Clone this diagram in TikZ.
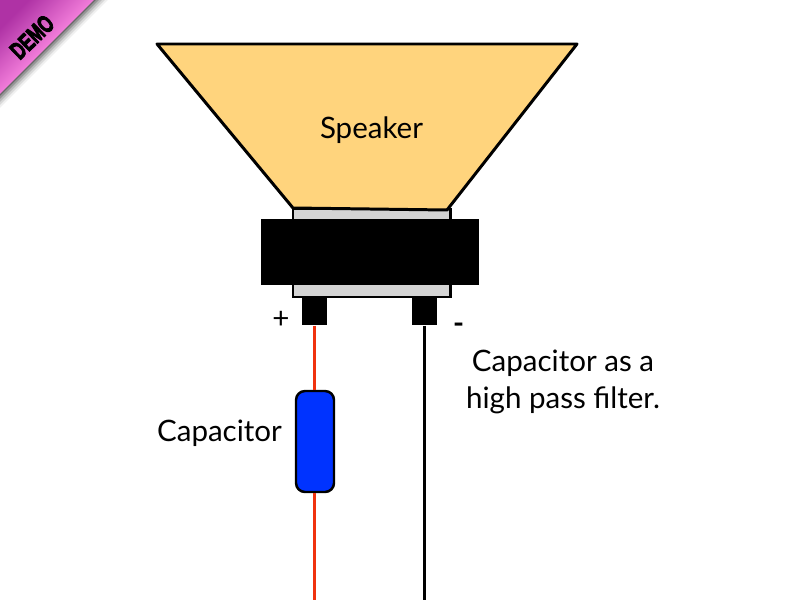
\documentclass[tikz,border=0pt]{standalone}
\usepackage{fontspec}
\setmainfont{Lato}
\newfontfamily\demofont[UprightFont=* Bold, FakeBold=4]{Liberation Sans}
\usetikzlibrary{positioning}
\definecolor{conefill}{RGB}{255,212,125}
\definecolor{magnetgray}{RGB}{212,212,212}
\definecolor{capblue}{RGB}{0,51,255}
\definecolor{wirered}{RGB}{240,50,15}
\definecolor{ribbonlight}{RGB}{242,125,218}
\definecolor{ribbondark}{RGB}{175,50,165}
\tikzset{
  blackbox/.style={rectangle, draw=none, fill=black, inner sep=0pt},
  textlabel/.style={font=\fontsize{8.4}{10.4}\selectfont, inner sep=0pt, align=center},
  wire/.style={line width=0.85pt}
}
\begin{document}
\begin{tikzpicture}
      \useasboundingbox (0,0) rectangle (8,6);
      % corner ribbon
      \foreach \d/\o in {0.14/0.06, 0.11/0.1, 0.08/0.14, 0.05/0.2, 0.02/0.3}
        \fill[black, opacity=\o] (0,5.06-\d) -- (0.94+\d,6) -- (0,6) -- cycle;
      \shade[top color=ribbondark, bottom color=ribbonlight, middle color=ribbonlight, shading angle=45] (0,5.06) -- (0.94,6) -- (0,6) -- cycle;
      \node[rotate=44, xscale=0.68, inner sep=0pt] (demo) at (0.32,5.63) {\demofont\fontsize{7}{8}\selectfont DEMO};
      % speaker
      \node[rectangle, draw, fill=magnetgray, line width=0.85pt, minimum width=1.57cm, minimum height=0.88cm, inner sep=0pt] (gap) at (3.715,3.47) {};
      \draw[fill=conefill, line width=0.85pt, line join=round] (1.57,5.56) -- (5.77,5.56) -- (4.47,3.90) -- (2.93,3.92) -- cycle;
      \node[blackbox, minimum width=2.18cm, minimum height=0.66cm] (magnet) at (3.70,3.48) {};
      \node[textlabel] (speaker) at (3.715,4.70) {Speaker};
      % terminals
      \node[blackbox, minimum width=0.25cm, minimum height=0.28cm] (plus) at (3.145,2.89) {};
      \node[blackbox, minimum width=0.25cm, minimum height=0.28cm] (minus) at (4.245,2.89) {};
      \node[textlabel] (pluslabel) at (2.81,2.80) {+};
      \node[textlabel] (minuslabel) at (4.585,2.72) {\textbf{-}};
      % capacitor and wires
      \node[rectangle, rounded corners=0.09cm, draw, fill=capblue, line width=0.7pt, minimum width=0.38cm, minimum height=1.01cm, inner sep=0pt] (cap) at (3.15,1.585) {};
      \coordinate (redend) at (3.145,0);
      \coordinate (blackend) at (4.245,0);
      \draw[wire, wirered] (plus.south) -- (plus.south |- cap.north);
      \draw[wire, wirered] (redend |- cap.south) -- (redend);
      \draw[wire] (minus.south) -- (blackend);
      \node[textlabel] (caplabel) at (2.195,1.67) {Capacitor};
      \node[textlabel] (note) at (5.63,2.18) {Capacitor as a\\high pass filter.};
    \end{tikzpicture}
\end{document}
